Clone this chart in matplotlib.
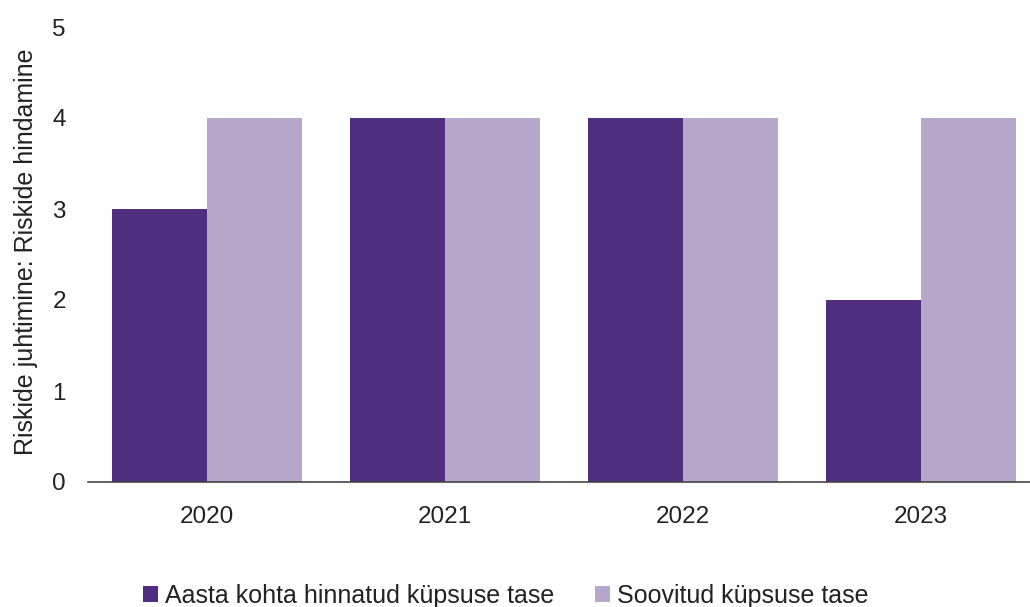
import numpy as np
import matplotlib.pyplot as plt

plt.rcParams['font.family'] = ['Liberation Sans', 'DejaVu Sans']

years = ["2020", "2021", "2022", "2023"]
hinnatud = [3, 4, 4, 2]
soovitud = [4, 4, 4, 4]
labels = ["Aasta kohta hinnatud küpsuse tase", "Soovitud küpsuse tase"]

dark = "#4F2D7F"
light = "#B6A7CB"

fig = plt.figure(figsize=(10.30, 6.07), dpi=100)
ax = fig.add_axes([88/1030, 125/607, 952/1030, 455/607])

x = np.arange(len(years))
w = 0.4
ax.bar(x - w/2, hinnatud, w, color=dark, label=labels[0])
ax.bar(x + w/2, soovitud, w, color=light, label=labels[1])

ax.set_xlim(-0.5, 3.5)
ax.set_ylim(0, 5)
ax.set_xticks(x)
ax.set_xticklabels(years)
ax.set_yticks(range(6))
ax.tick_params(axis='both', length=0, labelsize=17.5, colors='#222222')
ax.tick_params(axis='x', pad=17.5)
ax.tick_params(axis='y', pad=16)
for s in ['top', 'right', 'left']:
    ax.spines[s].set_visible(False)
ax.spines['bottom'].set_color('#444444')
ax.spines['bottom'].set_linewidth(1.2)

ax.set_ylabel("Riskide juhtimine: Riskide hindamine", fontsize=18, color='#222222')
ax.yaxis.set_label_coords(-0.053, 0.505)

fig.legend(loc='center', bbox_to_anchor=(0.491, 0.018), ncol=2, frameon=False,
           fontsize=18, handlelength=0.6, handleheight=0.6, handletextpad=0.3,
           columnspacing=1.6, labelcolor='#222222')

fig.savefig("out.png", dpi=100)
